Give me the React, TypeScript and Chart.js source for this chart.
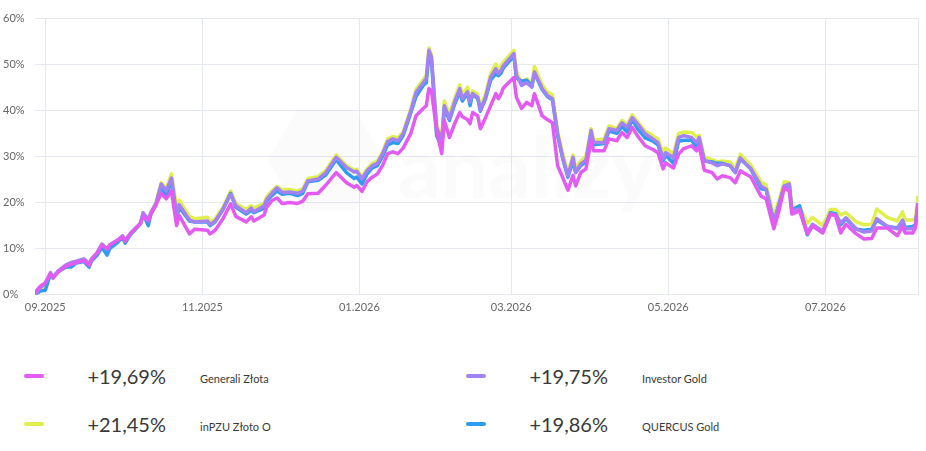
import { useEffect, useRef } from "react"
import { Chart, registerables } from "chart.js"

Chart.register(...registerables)

// day 0 = 28.08.2025
const START = Date.UTC(2025, 7, 28)
const DAY_MS = 86400000
const LAST_DAY = 343

const monthTicks: [number, number][] = [
  [2025, 8], [2025, 10], [2026, 0], [2026, 2], [2026, 4], [2026, 6],
]

const days = [
  0, 2, 4, 6, 7, 9, 12, 14, 16, 19,
  21, 22, 24, 26, 28, 29, 32, 34, 35, 37,
  39, 41, 42, 44, 45, 47, 49, 51, 53, 55,
  56, 60, 62, 67, 68, 70, 73, 76, 78, 82,
  84, 85, 89, 90, 92, 94, 96, 99, 102, 104,
  106, 110, 113, 117, 121, 124, 125, 127, 129, 131,
  133, 135, 137, 139, 141, 143, 146, 148, 151, 152,
  153, 154, 156, 158, 159, 161, 163, 165, 166, 168,
  169, 170, 172, 173, 175, 177, 179, 180, 181, 182,
  186, 187, 189, 191, 193, 194, 197, 199, 201, 203,
  205, 207, 209, 210, 212, 214, 216, 217, 221, 223,
  226, 228, 230, 232, 234, 237, 240, 242, 244, 245,
  248, 250, 252, 255, 257, 258, 260, 263, 265, 267,
  270, 272, 274, 276, 278, 282, 284, 287, 289, 291,
  293, 294, 297, 300, 302, 306, 309, 311, 313, 315,
  319, 322, 325, 327, 331, 335, 337, 338, 341, 342,
  343,
]

const generali = [
  0.5, 1.8, 2.6, 4.6, 3.6, 5.0, 6.2, 6.6, 7.0, 7.4,
  6.4, 7.6, 9.0, 10.8, 10.0, 10.8, 11.8, 12.5, 11.6, 13.2,
  14.4, 15.4, 17.0, 16.0, 17.5, 19.5, 22.0, 20.8, 22.5, 15.0,
  17.2, 13.2, 14.2, 14.0, 13.2, 14.0, 16.5, 19.7, 17.0, 15.8,
  16.9, 16.0, 17.3, 19.0, 20.4, 21.0, 19.8, 20.0, 19.8, 20.3,
  21.9, 22.0, 23.8, 26.5, 24.3, 23.3, 23.7, 22.4, 24.5, 25.5,
  26.2, 28.0, 30.6, 31.0, 30.6, 31.8, 35.0, 38.8, 40.5, 41.0,
  44.7, 44.3, 35.6, 30.6, 37.8, 34.1, 37.1, 39.5, 38.6, 38.0,
  37.1, 39.5, 38.8, 36.0, 38.4, 41.0, 43.6, 42.5, 43.5, 44.9,
  47.1, 42.8, 40.4, 41.7, 41.0, 43.6, 38.8, 38.0, 37.3, 28.0,
  25.4, 22.7, 25.9, 23.6, 26.5, 27.3, 33.4, 31.2, 31.2, 33.8,
  33.4, 35.2, 34.1, 36.3, 34.5, 32.3, 31.5, 30.8, 27.3, 28.6,
  27.5, 30.5, 31.7, 32.3, 31.2, 32.3, 27.0, 26.5, 25.1, 25.8,
  25.4, 24.3, 26.9, 26.2, 25.6, 21.4, 20.8, 14.3, 18.2, 23.2,
  22.5, 17.5, 18.2, 13.2, 14.9, 13.4, 17.5, 17.1, 13.4, 15.3,
  13.2, 12.1, 12.2, 14.5, 14.5, 12.8, 14.9, 13.4, 13.4, 14.5,
  19.69,
]

const inpzu = [
  0, 1.2, 2.2, 4.3, 3.6, 5.0, 6.0, 6.5, 7.0, 7.4,
  6.2, 7.5, 8.6, 10.5, 9.2, 10.2, 11.3, 12.5, 11.5, 13.0,
  14.2, 15.5, 17.5, 16.0, 17.8, 20.0, 24.3, 23.0, 26.2, 19.0,
  20.5, 17.0, 16.5, 16.8, 15.8, 16.5, 19.0, 22.5, 19.8, 18.5,
  19.3, 18.8, 19.8, 21.2, 22.5, 23.5, 22.8, 22.8, 22.5, 23.0,
  25.2, 25.6, 27.0, 30.3, 28.0, 27.0, 27.2, 25.5, 27.3, 28.5,
  29.0, 31.0, 33.8, 34.3, 34.0, 35.3, 40.3, 44.5, 46.8, 47.5,
  53.5, 52.0, 37.0, 34.0, 42.0, 39.0, 42.6, 45.5, 43.3, 45.0,
  42.5, 44.2, 43.5, 40.8, 43.5, 48.0, 50.0, 48.8, 49.5, 50.5,
  53.0, 48.3, 46.0, 46.8, 45.8, 49.5, 45.5, 44.0, 43.3, 35.5,
  30.5, 26.5, 30.3, 27.5, 29.0, 30.0, 36.0, 33.5, 33.8, 36.6,
  36.0, 37.8, 36.8, 39.0, 37.6, 35.5, 34.5, 33.8, 30.5, 31.8,
  30.5, 35.0, 35.3, 35.2, 34.3, 34.5, 29.8, 29.3, 28.8, 29.0,
  28.8, 27.3, 30.5, 29.3, 28.2, 24.5, 23.8, 17.0, 20.5, 24.5,
  24.3, 18.8, 19.2, 15.5, 16.8, 15.0, 18.5, 18.5, 17.3, 17.8,
  15.8, 15.2, 15.3, 18.6, 16.8, 16.0, 18.0, 16.2, 16.2, 16.5,
  21.45,
]

const investor = [
  0, 1.5, 2.5, 4.8, 3.8, 5.2, 6.5, 7.0, 7.3, 7.8,
  6.8, 7.8, 9.0, 11.0, 9.8, 10.8, 11.8, 12.8, 11.8, 13.3,
  14.4, 15.6, 17.8, 16.3, 17.8, 19.8, 24.0, 22.5, 25.3, 17.5,
  19.5, 16.2, 15.8, 16.0, 15.2, 16.0, 18.5, 21.8, 19.3, 17.8,
  18.8, 18.0, 19.3, 20.7, 22.0, 23.2, 22.2, 22.3, 22.0, 22.5,
  24.7, 25.1, 26.5, 29.8, 27.6, 26.6, 26.8, 25.1, 26.9, 28.0,
  28.5, 30.6, 33.2, 33.8, 33.4, 34.9, 39.9, 43.9, 46.1, 46.9,
  53.0, 51.5, 36.3, 33.4, 41.0, 38.2, 41.8, 44.7, 42.5, 44.0,
  41.8, 43.6, 42.8, 40.0, 42.8, 47.2, 49.0, 47.9, 48.6, 49.7,
  52.3, 47.6, 45.4, 46.0, 45.0, 48.3, 44.7, 43.2, 42.5, 34.9,
  29.7, 25.8, 29.8, 26.5, 28.4, 29.1, 35.6, 33.0, 33.0, 36.0,
  35.6, 37.3, 36.3, 38.4, 37.1, 34.9, 33.8, 33.0, 29.5, 30.8,
  29.7, 34.1, 34.5, 34.1, 33.0, 34.1, 29.1, 28.6, 28.0, 28.4,
  28.0, 26.5, 29.7, 28.4, 27.4, 23.6, 22.9, 15.6, 19.7, 23.6,
  24.0, 18.2, 18.6, 13.4, 15.3, 13.8, 17.5, 17.3, 15.6, 16.7,
  14.3, 13.6, 13.8, 16.5, 14.9, 14.3, 16.2, 14.3, 14.3, 15.0,
  19.75,
]

const quercus = [
  0, 0.8, 1.0, 4.5, 3.8, 5.0, 6.0, 6.0, 6.9, 7.2,
  6.0, 7.4, 8.5, 10.3, 8.6, 10.0, 11.3, 12.5, 11.2, 13.0,
  14.2, 15.5, 17.5, 15.0, 17.5, 19.5, 23.5, 21.2, 25.0, 16.5,
  19.0, 16.0, 15.8, 15.8, 15.0, 15.8, 18.5, 22.0, 19.0, 17.5,
  18.3, 17.8, 18.8, 20.3, 21.5, 22.5, 21.8, 22.0, 21.5, 22.0,
  24.5, 24.8, 26.0, 29.3, 26.5, 25.2, 25.5, 24.0, 26.2, 27.5,
  28.0, 30.0, 32.5, 33.0, 32.8, 34.5, 39.5, 43.0, 45.5, 46.0,
  52.0, 51.0, 34.5, 32.0, 40.5, 37.8, 41.3, 44.0, 42.0, 43.8,
  41.0, 43.5, 42.5, 39.8, 42.5, 46.5, 48.0, 47.5, 48.0, 49.2,
  51.8, 47.0, 46.3, 46.5, 45.3, 48.0, 44.5, 43.0, 42.3, 34.5,
  29.5, 25.5, 29.0, 26.5, 28.0, 28.8, 35.0, 32.5, 32.8, 35.5,
  35.0, 36.5, 35.3, 38.0, 36.0, 34.0, 33.3, 32.5, 29.0, 30.3,
  28.5, 33.3, 33.5, 33.5, 32.0, 33.5, 29.0, 28.8, 28.5, 28.5,
  28.0, 26.5, 29.5, 28.4, 27.3, 23.0, 22.8, 15.8, 19.5, 23.3,
  23.8, 18.3, 19.3, 13.0, 15.0, 13.6, 17.8, 17.6, 15.2, 16.5,
  14.2, 14.0, 14.2, 16.2, 14.8, 14.5, 16.0, 14.6, 14.8, 15.2,
  19.86,
]

const fundNames = ["Generali Złota", "inPZU Złoto O", "Investor Gold", "QUERCUS Gold"]
const fundColors = ["#e45bf4", "#e1ef4c", "#a282f4", "#2e9cf4"]
const fundReturns = ["+19,69%", "+21,45%", "+19,75%", "+19,86%"]
const yTicks = [0, 10, 20, 30, 40, 50, 60]

const GRID = "#e5e8f1"
const FONT = "Lato, 'Noto Sans', sans-serif"

const monthOffset = (y: number, m: number) => (Date.UTC(y, m, 1) - START) / DAY_MS

const watermark = {
  id: "watermark",
  beforeDatasetsDraw(chart: any) {
    const { ctx } = chart
    ctx.save()
    ctx.fillStyle = "rgba(70, 70, 100, 0.025)"
    const cx = 326
    const cy = 160
    const r = 58
    ctx.beginPath()
    for (let i = 0; i < 6; i++) {
      const a = (Math.PI / 3) * i
      const px = cx + r * Math.cos(a)
      const py = cy + r * Math.sin(a)
      if (i === 0) ctx.moveTo(px, py)
      else ctx.lineTo(px, py)
    }
    ctx.closePath()
    ctx.fill()
    ctx.font = "bold 84px " + FONT
    ctx.textBaseline = "alphabetic"
    ctx.fillText("analizy", 398, 198)
    ctx.restore()
  },
}

function GoldChart() {
  const chartRef = useRef<HTMLCanvasElement>(null)
  const chartInstance = useRef<Chart | null>(null)

  useEffect(() => {
    if (!chartRef.current) return
    if (chartInstance.current) chartInstance.current.destroy()
    const ctx = chartRef.current.getContext("2d")
    if (!ctx) return

    // first dataset is drawn on top
    const series = [generali, investor, quercus, inpzu]
    const idx = [0, 2, 3, 1]

    chartInstance.current = new Chart(ctx, {
      type: "line",
      data: {
        datasets: series.map((values, i) => ({
          label: fundNames[idx[i]],
          data: values.map((v, j) => ({ x: days[j], y: v })),
          borderColor: fundColors[idx[i]],
          backgroundColor: fundColors[idx[i]],
          borderWidth: 3.5,
          pointRadius: 0,
          tension: 0,
          borderJoinStyle: "round" as const,
        })),
      },
      options: {
        animation: false,
        responsive: true,
        maintainAspectRatio: false,
        layout: { padding: { left: 3, right: 8, top: 18, bottom: 6 } },
        plugins: {
          legend: { display: false },
          tooltip: { enabled: false },
        },
        scales: {
          x: {
            type: "linear",
            min: 0,
            max: LAST_DAY,
            afterBuildTicks: (scale: any) => {
              scale.ticks = [
                ...monthTicks.map(([y, m]) => ({ value: monthOffset(y, m) })),
                { value: LAST_DAY },
              ]
            },
            ticks: {
              autoSkip: false,
              maxRotation: 0,
              padding: 6,
              color: "#666",
              font: { family: FONT, size: 11 },
              callback: (value: any) => {
                const d = new Date(START + Number(value) * DAY_MS)
                if (d.getUTCDate() !== 1) return ""
                return String(d.getUTCMonth() + 1).padStart(2, "0") + "." + d.getUTCFullYear()
              },
            },
            grid: { color: GRID, lineWidth: 1, drawTicks: false },
            border: { display: false },
          },
          y: {
            min: 0,
            max: 60,
            afterBuildTicks: (scale: any) => {
              scale.ticks = yTicks.map((v) => ({ value: v }))
            },
            afterFit: (scale: any) => {
              scale.width = 32
            },
            ticks: {
              crossAlign: "far",
              color: "#666",
              font: { family: FONT, size: 11 },
              callback: (value: any) => value + "%",
            },
            grid: { color: GRID, lineWidth: 1, drawTicks: false },
            border: { display: false },
          },
        },
      },
      plugins: [watermark],
    })

    return () => {
      if (chartInstance.current) {
        chartInstance.current.destroy()
        chartInstance.current = null
      }
    }
  }, [])

  return <canvas ref={chartRef} />
}

const legendSlots = [
  { row: 0, swatch: 24, valueRight: 166, name: 200 },
  { row: 1, swatch: 24, valueRight: 166, name: 200 },
  { row: 0, swatch: 466, valueRight: 608, name: 642 },
  { row: 1, swatch: 466, valueRight: 608, name: 642 },
]
const rowCenters = [376, 424]

export default function App() {
  return (
    <div style={{ position: "absolute", left: 0, top: 0, width: 926, height: 451, background: "#fff", fontFamily: FONT }}>
      <div style={{ position: "relative", width: 926, height: 326 }}>
        <GoldChart />
      </div>
      {legendSlots.map((s, i) => {
        const c = rowCenters[s.row]
        return (
          <div key={fundNames[i]}>
            <div style={{ position: "absolute", left: s.swatch, top: c - 2, width: 20, height: 4, borderRadius: 2, background: fundColors[i] }} />
            <div style={{ position: "absolute", right: 926 - s.valueRight, top: c - 10.5, fontSize: 20, lineHeight: "20px", color: "#383838", whiteSpace: "nowrap" }}>
              {fundReturns[i]}
            </div>
            <div style={{ position: "absolute", left: s.name, top: c - 3.5, fontSize: 11, lineHeight: "11px", color: "#383838", whiteSpace: "nowrap" }}>
              {fundNames[i]}
            </div>
          </div>
        )
      })}
    </div>
  )
}
